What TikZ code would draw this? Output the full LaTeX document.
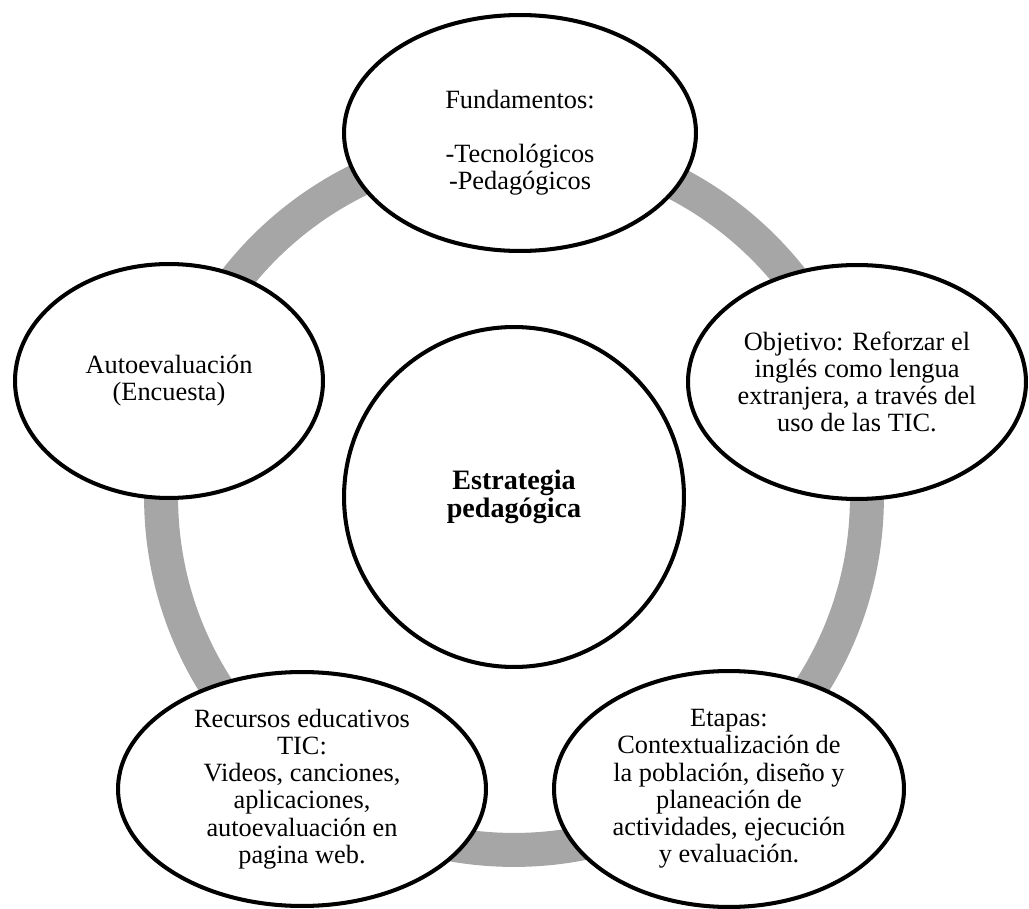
\documentclass[tikz,border=0pt]{standalone}
\usepackage{fontspec}
\setmainfont{Liberation Serif}
\usetikzlibrary{shapes.geometric}
\definecolor{gris}{HTML}{A6A6A6}
\begin{document}
\begin{tikzpicture}[x=0.02cm, y=-0.02cm,
    burbuja/.style={ellipse, draw=black, line width=2.3pt, fill=white, inner sep=0pt,
        align=center, font=\fontsize{15}{15.5}\selectfont},
    anillo/.style={draw=gris, line width=0.68cm}]
    \useasboundingbox (0,0) rectangle (1029,909);
    \coordinate (medio) at (514,497);
    % anillo gris detras de las burbujas
    \draw[anillo] (medio) circle[radius=7.06cm];
    \node[burbuja, circle, minimum size=6.8cm, font=\fontsize{16}{16}\selectfont\bfseries] (centro) at (medio) {Estrategia\\pedagógica};
    \node[burbuja, minimum width=7.04cm, minimum height=4.72cm] (fundamentos) at (520,133) {\rule{0pt}{21.5pt}Fundamentos:\\[15.5pt]-Tecnológicos\\-Pedagógicos};
    \node[burbuja, minimum width=6.76cm, minimum height=4.68cm] (objetivo) at (857,382) {Objetivo: Reforzar el\\inglés como lengua\\extranjera, a través del\\uso de las TIC.};
    \node[burbuja, minimum width=7.0cm, minimum height=4.72cm] (etapas) at (729,789) {Etapas:\\Contextualización de\\la población, diseño y\\planeación de\\actividades, ejecución\\y evaluación.};
    \node[burbuja, minimum width=7.36cm, minimum height=4.68cm] (recursos) at (302,789) {Recursos educativos\\TIC:\\Videos, canciones,\\aplicaciones,\\autoevaluación en\\pagina web.};
    \node[burbuja, minimum width=6.16cm, minimum height=4.68cm] (autoevaluacion) at (169,381) {Autoevaluación\\(Encuesta)};
\end{tikzpicture}
\end{document}
